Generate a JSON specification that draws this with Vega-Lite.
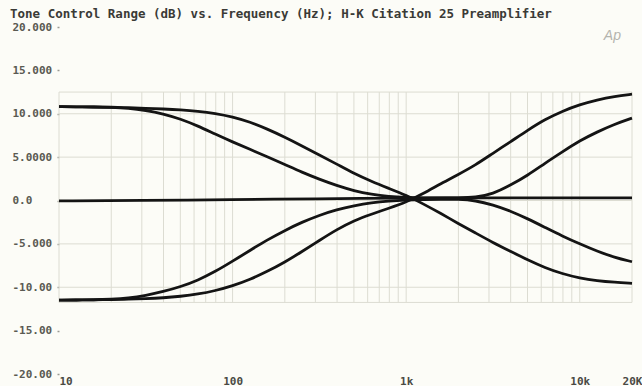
{
  "$schema": "https://vega.github.io/schema/vega-lite/v6.json",
  "width": 573,
  "height": 347,
  "autosize": {"type": "none"},
  "padding": {"left": 59, "top": 27, "right": 10, "bottom": 12},
  "background": "#fcfcf7",
  "title": {
    "text": "Tone Control Range (dB) vs. Frequency (Hz); H-K Citation 25 Preamplifier",
    "anchor": "start",
    "frame": "bounds",
    "font": "DejaVu Sans Mono",
    "fontSize": 12.5,
    "fontWeight": "bold",
    "color": "#3a3a36",
    "offset": 1,
    "dx": -2
  },
  "config": {
    "view": {"stroke": null},
    "axisX": {
      "title": null, "domain": false, "ticks": false, "grid": false,
      "labelFont": "DejaVu Sans Mono", "labelFontWeight": "bold", "labelFontSize": 11,
      "labelColor": "#4a4a44", "labelPadding": 1, "labelFlush": false, "labelOverlap": false
    },
    "axisY": {
      "title": null, "domain": false, "grid": false, "ticks": true, "tickSize": 2,
      "tickColor": "#9a9a92", "tickWidth": 1.5,
      "labelFont": "DejaVu Sans Mono", "labelFontWeight": "bold", "labelFontSize": 11,
      "labelColor": "#5a5a52", "labelAlign": "left", "labelPadding": 45,
      "labelBaseline": "middle", "labelFlush": false, "labelOverlap": false
    }
  },
  "datasets": {
    "vgrid": [
      {"freq": 10}, {"freq": 20}, {"freq": 30}, {"freq": 40}, {"freq": 50}, {"freq": 60}, {"freq": 70}, {"freq": 80}, {"freq": 90},
      {"freq": 100}, {"freq": 200}, {"freq": 300}, {"freq": 400}, {"freq": 500}, {"freq": 600}, {"freq": 700}, {"freq": 800}, {"freq": 900},
      {"freq": 1000}, {"freq": 2000}, {"freq": 3000}, {"freq": 4000}, {"freq": 5000}, {"freq": 6000}, {"freq": 7000}, {"freq": 8000}, {"freq": 9000},
      {"freq": 10000}, {"freq": 20000}
    ],
    "hgrid": [
      {"db": 12.5}, {"db": 10}, {"db": 5}, {"db": 0}, {"db": -5}, {"db": -10}, {"db": -11.75}
    ],
    "curves": [
      {"c":"A","freq":10,"db":10.82},{"c":"A","freq":12.6,"db":10.8},{"c":"A","freq":15.8,"db":10.78},{"c":"A","freq":20,"db":10.75},
      {"c":"A","freq":25.1,"db":10.7},{"c":"A","freq":31.6,"db":10.63},{"c":"A","freq":39.8,"db":10.55},{"c":"A","freq":50.1,"db":10.45},
      {"c":"A","freq":63.1,"db":10.3},{"c":"A","freq":79.4,"db":10.05},{"c":"A","freq":100,"db":9.65},{"c":"A","freq":126,"db":9.05},
      {"c":"A","freq":158,"db":8.25},{"c":"A","freq":200,"db":7.3},{"c":"A","freq":251,"db":6.3},{"c":"A","freq":316,"db":5.25},
      {"c":"A","freq":398,"db":4.2},{"c":"A","freq":501,"db":3.1},{"c":"A","freq":631,"db":2.2},{"c":"A","freq":794,"db":1.4},
      {"c":"A","freq":1000,"db":0.6},{"c":"A","freq":1259,"db":-0.4},{"c":"A","freq":1585,"db":-1.5},{"c":"A","freq":1995,"db":-2.65},
      {"c":"A","freq":2512,"db":-3.75},{"c":"A","freq":3162,"db":-4.85},{"c":"A","freq":3981,"db":-5.85},{"c":"A","freq":5012,"db":-6.85},
      {"c":"A","freq":6310,"db":-7.75},{"c":"A","freq":7943,"db":-8.45},{"c":"A","freq":10000,"db":-8.95},{"c":"A","freq":12589,"db":-9.25},
      {"c":"A","freq":15849,"db":-9.43},{"c":"A","freq":20000,"db":-9.55},

      {"c":"E","freq":10,"db":-11.48},{"c":"E","freq":12.6,"db":-11.47},{"c":"E","freq":15.8,"db":-11.45},{"c":"E","freq":20,"db":-11.42},
      {"c":"E","freq":25.1,"db":-11.38},{"c":"E","freq":31.6,"db":-11.32},{"c":"E","freq":39.8,"db":-11.22},{"c":"E","freq":50.1,"db":-11.05},
      {"c":"E","freq":63.1,"db":-10.8},{"c":"E","freq":79.4,"db":-10.4},{"c":"E","freq":100,"db":-9.85},{"c":"E","freq":126,"db":-9.1},
      {"c":"E","freq":158,"db":-8.2},{"c":"E","freq":200,"db":-7.1},{"c":"E","freq":251,"db":-5.9},{"c":"E","freq":316,"db":-4.6},
      {"c":"E","freq":398,"db":-3.35},{"c":"E","freq":501,"db":-2.3},{"c":"E","freq":631,"db":-1.57},{"c":"E","freq":794,"db":-0.9},
      {"c":"E","freq":1000,"db":-0.2},{"c":"E","freq":1259,"db":0.8},{"c":"E","freq":1585,"db":1.95},{"c":"E","freq":1995,"db":3.0},
      {"c":"E","freq":2512,"db":4.1},{"c":"E","freq":3162,"db":5.45},{"c":"E","freq":3981,"db":6.75},{"c":"E","freq":5012,"db":8.1},
      {"c":"E","freq":6310,"db":9.35},{"c":"E","freq":7943,"db":10.3},{"c":"E","freq":10000,"db":11.05},{"c":"E","freq":12589,"db":11.6},
      {"c":"E","freq":15849,"db":12.0},{"c":"E","freq":20000,"db":12.25},

      {"c":"B","freq":10,"db":10.82},{"c":"B","freq":12.6,"db":10.8},{"c":"B","freq":15.8,"db":10.78},{"c":"B","freq":20,"db":10.74},
      {"c":"B","freq":25.1,"db":10.65},{"c":"B","freq":31.6,"db":10.4},{"c":"B","freq":39.8,"db":10.0},{"c":"B","freq":50.1,"db":9.4},
      {"c":"B","freq":63.1,"db":8.6},{"c":"B","freq":79.4,"db":7.65},{"c":"B","freq":100,"db":6.75},{"c":"B","freq":126,"db":5.9},
      {"c":"B","freq":158,"db":5.05},{"c":"B","freq":200,"db":4.15},{"c":"B","freq":251,"db":3.25},{"c":"B","freq":316,"db":2.45},
      {"c":"B","freq":398,"db":1.72},{"c":"B","freq":501,"db":1.12},{"c":"B","freq":631,"db":0.7},{"c":"B","freq":794,"db":0.45},
      {"c":"B","freq":1000,"db":0.35},{"c":"B","freq":1259,"db":0.3},{"c":"B","freq":1585,"db":0.3},{"c":"B","freq":1995,"db":0.3},
      {"c":"B","freq":2512,"db":0.35},{"c":"B","freq":3162,"db":0.75},{"c":"B","freq":3981,"db":1.75},{"c":"B","freq":5012,"db":2.9},
      {"c":"B","freq":6310,"db":4.3},{"c":"B","freq":7943,"db":5.6},{"c":"B","freq":10000,"db":6.9},{"c":"B","freq":12589,"db":7.9},
      {"c":"B","freq":15849,"db":8.8},{"c":"B","freq":20000,"db":9.5},

      {"c":"D","freq":10,"db":-11.48},{"c":"D","freq":12.6,"db":-11.47},{"c":"D","freq":15.8,"db":-11.45},{"c":"D","freq":20,"db":-11.38},
      {"c":"D","freq":25.1,"db":-11.25},{"c":"D","freq":31.6,"db":-10.95},{"c":"D","freq":39.8,"db":-10.5},{"c":"D","freq":50.1,"db":-9.95},
      {"c":"D","freq":63.1,"db":-9.2},{"c":"D","freq":79.4,"db":-8.2},{"c":"D","freq":100,"db":-7.0},{"c":"D","freq":126,"db":-5.75},
      {"c":"D","freq":158,"db":-4.55},{"c":"D","freq":200,"db":-3.45},{"c":"D","freq":251,"db":-2.5},{"c":"D","freq":316,"db":-1.7},
      {"c":"D","freq":398,"db":-1.05},{"c":"D","freq":501,"db":-0.6},{"c":"D","freq":631,"db":-0.25},{"c":"D","freq":794,"db":-0.05},
      {"c":"D","freq":1000,"db":0.05},{"c":"D","freq":1259,"db":0.1},{"c":"D","freq":1585,"db":0.15},{"c":"D","freq":1995,"db":0.15},
      {"c":"D","freq":2512,"db":0.0},{"c":"D","freq":3162,"db":-0.5},{"c":"D","freq":3981,"db":-1.2},{"c":"D","freq":5012,"db":-2.1},
      {"c":"D","freq":6310,"db":-3.1},{"c":"D","freq":7943,"db":-4.1},{"c":"D","freq":10000,"db":-5.0},{"c":"D","freq":12589,"db":-5.85},
      {"c":"D","freq":15849,"db":-6.55},{"c":"D","freq":20000,"db":-7.06},

      {"c":"C","freq":10,"db":-0.05},{"c":"C","freq":30,"db":0.0},{"c":"C","freq":100,"db":0.1},
      {"c":"C","freq":300,"db":0.2},{"c":"C","freq":1000,"db":0.28},{"c":"C","freq":3000,"db":0.3},
      {"c":"C","freq":10000,"db":0.3},{"c":"C","freq":20000,"db":0.3}
    ],
    "logo": [{"label": "Ap", "freq": 13770, "db": 19.0}]
  },
  "layer": [
    {
      "data": {"name": "vgrid"},
      "mark": {"type": "rule", "color": "#dcdcd2", "strokeWidth": 1},
      "encoding": {
        "x": {
          "field": "freq", "type": "quantitative",
          "scale": {"type": "log", "domain": [10, 20000], "nice": false},
          "axis": {
            "values": [10, 100, 1000, 10000, 20000],
            "labelExpr": "datum.value == 10 ? '10' : datum.value == 100 ? '100' : datum.value == 1000 ? '1k' : datum.value == 10000 ? '10k' : '20K'",
            "labelAlign": {"condition": {"test": "datum.value == 10", "value": "left"}, "value": "center"}
          }
        },
        "y": {
          "datum": 12.5, "type": "quantitative",
          "scale": {"domain": [-20, 20], "nice": false},
          "axis": {
            "values": [-20, -15, -10, -5, 0, 5, 10, 15, 20],
            "labelExpr": "datum.value == 20 ? '20.000' : datum.value == 15 ? '15.000' : datum.value == 10 ? '10.000' : datum.value == 5 ? '5.0000' : datum.value == 0 ? '0.0' : datum.value == -5 ? '-5.000' : datum.value == -10 ? '-10.00' : datum.value == -15 ? '-15.00' : '-20.00'"
          }
        },
        "y2": {"datum": -11.75}
      }
    },
    {
      "data": {"name": "hgrid"},
      "mark": {"type": "rule", "color": "#dcdcd2", "strokeWidth": 1},
      "encoding": {
        "y": {"field": "db", "type": "quantitative"},
        "x": {"datum": 10, "type": "quantitative"},
        "x2": {"datum": 20000}
      }
    },
    {
      "data": {"name": "curves"},
      "mark": {"type": "line", "color": "#141414", "strokeWidth": 2.8, "interpolate": "basis"},
      "encoding": {
        "x": {"field": "freq", "type": "quantitative"},
        "y": {"field": "db", "type": "quantitative"},
        "detail": {"field": "c", "type": "nominal"}
      }
    },
    {
      "data": {"name": "logo"},
      "mark": {"type": "text", "align": "left", "baseline": "middle", "font": "Liberation Sans", "fontStyle": "italic", "fontSize": 14, "color": "#b4b4ae"},
      "encoding": {
        "x": {"field": "freq", "type": "quantitative"},
        "y": {"field": "db", "type": "quantitative"},
        "text": {"field": "label"}
      }
    }
  ]
}
